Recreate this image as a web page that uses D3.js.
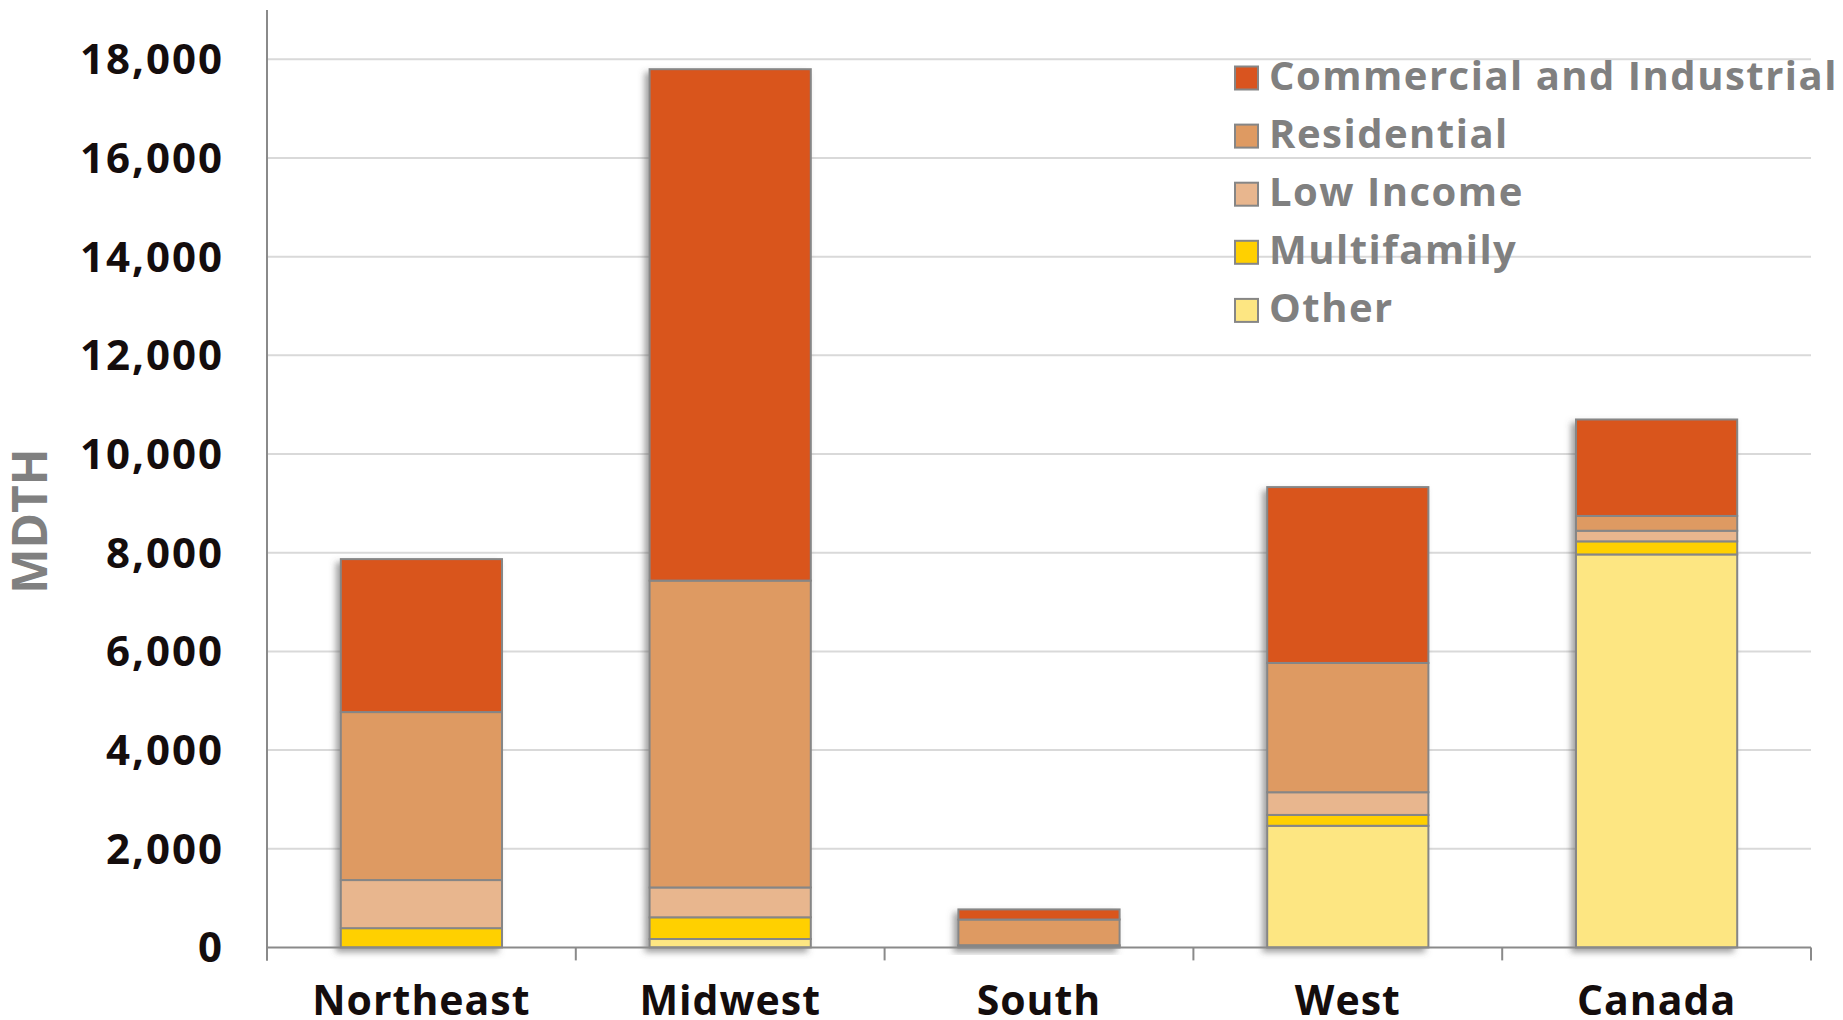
<!DOCTYPE html>
<html>
<head>
<meta charset="utf-8">
<script src="https://cdn.jsdelivr.net/npm/d3@7"></script>
<style>
  html, body { margin: 0; padding: 0; background: #fff; }
  svg { display: block; }
  text { font-family: "Open Sans", "DejaVu Sans", sans-serif; font-weight: 700; }
</style>
</head>
<body>
<svg id="chart" width="1843" height="1020"></svg>
<script>
// Savings by region, MDTH, stacked by program sector
const regions = ["Northeast", "Midwest", "South", "West", "Canada"];
const commercialIndustrial = [3100, 10365, 205, 3565, 1955];
const residential = [3405, 6220, 520, 2620, 300];
const lowIncome = [975, 605, 25, 460, 215];
const multifamily = [390, 440, 0, 220, 265];
const other = [0, 170, 20, 2465, 7965];

const seriesNames = ["Other", "Multifamily", "Low Income", "Residential", "Commercial and Industrial"];
const legendOrder = ["Commercial and Industrial", "Residential", "Low Income", "Multifamily", "Other"];
const seriesColors = ["#FDE682", "#FFD000", "#E8B68E", "#DE9A62", "#D9541F"];
const yTicks = [0, 2000, 4000, 6000, 8000, 10000, 12000, 14000, 16000, 18000];

const rows = regions.map((r, i) => ({
  region: r,
  "Other": other[i],
  "Multifamily": multifamily[i],
  "Low Income": lowIncome[i],
  "Residential": residential[i],
  "Commercial and Industrial": commercialIndustrial[i]
}));

const svg = d3.select("#chart");
const plot = { left: 267, right: 1811, top: 10, bottom: 947.4 };

const x = d3.scaleBand()
  .domain(regions)
  .range([plot.left, plot.right])
  .paddingInner(0.478)
  .paddingOuter(0.239);

const y = d3.scaleLinear().domain([0, 19000]).range([plot.bottom, plot.top]);
const color = d3.scaleOrdinal().domain(seriesNames).range(seriesColors);

// soft shadow behind each stacked column
const defs = svg.append("defs");
const f = defs.append("filter").attr("id", "barShadow")
  .attr("x", "-20%").attr("y", "-20%").attr("width", "140%").attr("height", "140%");
f.append("feDropShadow").attr("dx", -4).attr("dy", 4).attr("stdDeviation", 3)
  .attr("flood-color", "#555").attr("flood-opacity", 0.55);

// gridlines
svg.append("g").selectAll("line")
  .data(yTicks.filter(d => d > 0))
  .join("line")
  .attr("x1", plot.left).attr("x2", plot.right)
  .attr("y1", d => y(d)).attr("y2", d => y(d))
  .attr("stroke", "#d9d9d9").attr("stroke-width", 2);

// y tick labels
svg.append("g").selectAll("text")
  .data(yTicks)
  .join("text")
  .attr("x", 224)
  .attr("y", d => y(d) + 15)
  .attr("text-anchor", "end")
  .attr("font-size", 42)
  .attr("letter-spacing", 2)
  .attr("fill", "#140d0d")
  .text(d => d3.format(",")(d));

// y axis title
svg.append("text")
  .attr("transform", `translate(47, ${y(8640)}) rotate(-90)`)
  .attr("text-anchor", "middle")
  .attr("font-size", 48)
  .attr("fill", "#808080")
  .text("MDTH");

// stacked columns
const stacked = d3.stack().keys(seriesNames)(rows);
const groups = svg.append("g").selectAll("g")
  .data(regions)
  .join("g")
  .attr("filter", "url(#barShadow)");

groups.each(function(region, i) {
  const segs = stacked
    .map(s => ({ key: s.key, y0: s[i][0], y1: s[i][1] }))
    .filter(d => d.y1 - d.y0 > 0);
  d3.select(this).selectAll("rect")
    .data(segs)
    .join("rect")
    .attr("x", x(region))
    .attr("width", x.bandwidth())
    .attr("y", d => y(d.y1))
    .attr("height", d => y(d.y0) - y(d.y1))
    .attr("fill", d => color(d.key))
    .attr("stroke", "#868686")
    .attr("stroke-width", 2);
});

// axes lines and ticks
const axisColor = "#8a8a8a";
svg.append("line")
  .attr("x1", plot.left).attr("x2", plot.left)
  .attr("y1", plot.top).attr("y2", plot.bottom + 13)
  .attr("stroke", axisColor).attr("stroke-width", 2);
svg.append("line")
  .attr("x1", plot.left).attr("x2", plot.right)
  .attr("y1", plot.bottom).attr("y2", plot.bottom)
  .attr("stroke", axisColor).attr("stroke-width", 2);
const step = x.step();
const boundaries = regions.map(r => x(r) - x.paddingInner() * step / 2).concat([plot.right]);
svg.append("g").selectAll("line")
  .data(boundaries)
  .join("line")
  .attr("x1", d => d).attr("x2", d => d)
  .attr("y1", plot.bottom).attr("y2", plot.bottom + 13)
  .attr("stroke", axisColor).attr("stroke-width", 2);

// category labels
svg.append("g").selectAll("text")
  .data(regions)
  .join("text")
  .attr("x", d => x(d) + x.bandwidth() / 2)
  .attr("y", 1015)
  .attr("text-anchor", "middle")
  .attr("font-size", 41)
  .attr("letter-spacing", 1)
  .attr("fill", "#140d0d")
  .text(d => d);

// legend
const legend = svg.append("g").attr("transform", "translate(1235, 78)");
const li = legend.selectAll("g")
  .data(legendOrder)
  .join("g")
  .attr("transform", (d, i) => `translate(0, ${i * 58.1})`);
li.append("rect")
  .attr("x", 0).attr("y", -11.5)
  .attr("width", 23).attr("height", 23)
  .attr("fill", d => color(d))
  .attr("stroke", "#868686").attr("stroke-width", 2);
li.append("text")
  .attr("x", 34).attr("y", 12)
  .attr("font-size", 40)
  .attr("letter-spacing", 1.5)
  .attr("fill", "#808080")
  .text(d => d);
</script>
</body>
</html>
